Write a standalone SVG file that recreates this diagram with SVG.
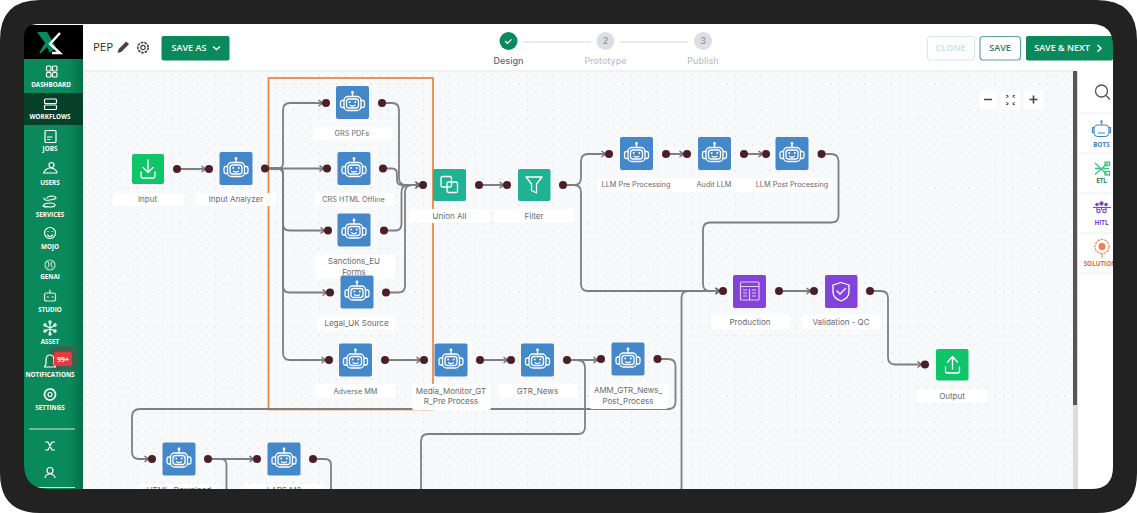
<svg xmlns="http://www.w3.org/2000/svg" width="1137" height="513" viewBox="0 0 1137 513">
<style>
.lb{fill:#fff}
.lt{font:400 8px Inter,"Open Sans",sans-serif;fill:#676b71;text-anchor:middle}
.s{font-size:7.3px}
.sb{font:700 6.3px "Open Sans","Liberation Sans",sans-serif;fill:#fff;text-anchor:middle}
.si{fill:none;stroke:#fff;stroke-width:1.2;stroke-linecap:round;stroke-linejoin:round}
.c{fill:none;stroke:#7f7f7f;stroke-width:1.8;stroke-linecap:round}
.a{marker-end:url(#ah)}
.p{fill:#4a1f28}
.ic{fill:none;stroke:#fff;stroke-width:1.3;stroke-linecap:round;stroke-linejoin:round}
.hd{font:600 9px "Open Sans","Liberation Sans",sans-serif;text-anchor:middle}
.st{font:500 9px Inter,"Open Sans",sans-serif;text-anchor:middle}
.pn{font:700 6.3px "Open Sans","Liberation Sans",sans-serif;text-anchor:middle}
</style>
<defs>
<linearGradient id="sg" x1="0" x2="1" y1="0" y2="0"><stop offset="0" stop-color="#0a8a5c"/><stop offset=".75" stop-color="#0a8a5c"/><stop offset="1" stop-color="#067048"/></linearGradient>
<pattern id="dots" width="8.67" height="8.67" patternUnits="userSpaceOnUse" x="3" y="2"><circle cx="4" cy="4" r=".9" fill="#e2e5e9"/></pattern>
<marker id="ah" markerWidth="12" markerHeight="8" refX="10" refY="4" orient="auto" markerUnits="userSpaceOnUse"><path d="M2.500 1L6.500 4L2.500 7" fill="none" stroke="#6e6e6e" stroke-width="1.400"/></marker>
<g id="robot"><rect x="-16.500" y="-16.500" width="33" height="33" rx="2" fill="#4488c9"/><g class="ic"><rect x="-8.500" y="-6" width="17" height="14" rx="4"/><rect x="-6" y="-3.500" width="12" height="9" rx="2.500"/><path d="M-8.500 -2H-10.500Q-12 -2 -12 0V3Q-12 5 -10.500 5H-8.500M8.500 -2H10.500Q12 -2 12 0V3Q12 5 10.500 5H8.500M0 -6V-9M-2.500 2.800Q0 4.300 2.500 2.800"/></g><circle cx="0" cy="-10" r="1.400" fill="#fff"/><circle cx="-2.800" cy="-.5" r="1" fill="#fff"/><circle cx="2.800" cy="-.5" r="1" fill="#fff"/></g>
</defs>

<rect width="1137" height="513" fill="#fff"/>
<g id="canvas"><rect x="83" y="71" width="990" height="420" fill="#f8f9fb"/><rect x="83" y="71" width="990" height="420" fill="url(#dots)"/></g>

<g id="header"><rect x="83" y="25" width="1030" height="46" fill="#fff"/><rect x="83" y="70" width="990" height="1.500" fill="#eceef0"/>
<text x="103" y="51" font-family="Open Sans,sans-serif" font-size="11.500" font-weight="500" fill="#333" text-anchor="middle">PEP</text>
<path d="M117.500 53l1.200-4 7.500-7.500 2.800 2.800-7.500 7.500z" fill="#444"/>
<circle cx="143" cy="47.500" r="2.200" fill="none" stroke="#444" stroke-width="1.200"/><circle cx="143" cy="47.500" r="5.200" fill="none" stroke="#444" stroke-width="1.700" stroke-dasharray="2.600 1"/>
<rect x="161.500" y="36" width="68" height="24.500" rx="2" fill="#0a8a5c"/><text x="189" y="51" class="hd" fill="#fff">SAVE AS</text><path d="M213 46.500l3.500 3 3.500-3" fill="none" stroke="#fff" stroke-width="1.500"/>
<circle cx="508.500" cy="41" r="9" fill="#0a8a5c"/><path d="M505 41l2.500 2.300 4-4" fill="none" stroke="#fff" stroke-width="1.200"/>
<path d="M524 42H591M620 42H688" stroke="#e3e5e8" stroke-width="1.500"/>
<circle cx="605.500" cy="41" r="9" fill="#dcdee3"/><circle cx="703" cy="41" r="9" fill="#dcdee3"/>
<text x="605.500" y="44" class="st" font-size="8" fill="#8d919a">2</text><text x="703" y="44" class="st" font-size="8" fill="#8d919a">3</text>
<text x="508.500" y="63.500" class="st" fill="#5c6b85">Design</text><text x="605.500" y="63.500" class="st" fill="#c0c3c8">Prototype</text><text x="703" y="63.500" class="st" fill="#c0c3c8">Publish</text>
<rect x="927.500" y="36.500" width="47" height="23.500" rx="3" fill="#fff" stroke="#d6e8f4" stroke-width="1.200"/><text x="950.500" y="51" class="hd" fill="#c4e1f2">CLONE</text>
<rect x="980" y="36.500" width="40.500" height="23.500" rx="3" fill="#fff" stroke="#5fa88d" stroke-width="1.200"/><text x="1000" y="51" class="hd" fill="#2b7d63">SAVE</text>
<rect x="1026" y="36" width="87" height="24.500" rx="2" fill="#0a8a5c"/><text x="1062" y="51" class="hd" fill="#fff">SAVE &amp; NEXT</text><path d="M1097.500 45l3.500 3.300-3.500 3.300" fill="none" stroke="#fff" stroke-width="1.500"/>
</g>

<g id="zoom-controls"><g fill="#fff"><rect x="979" y="91" width="18" height="19" rx="2"/><rect x="1001" y="91" width="19" height="19" rx="2"/><rect x="1024" y="91" width="19" height="19" rx="2"/></g>
<path d="M984 99.500H992M1029.500 99.500H1037.500M1033.500 95.500V103.500" stroke="#444" stroke-width="1.600" fill="none"/>
<path d="M1006 98l2-2M1015 98l-2-2M1006 102l2 2M1015 102l-2 2M1006 95.500h2v2M1015 95.500h-2v2M1006 104.500h2v-2M1015 104.500h-2v-2" stroke="#555" stroke-width=".9" fill="none"/></g>

<g id="scrollbar"><rect x="1073" y="71" width="5" height="420" fill="#dcdcdc"/><rect x="1073" y="71" width="4" height="334" fill="#555"/></g>

<g id="panel"><rect x="1079" y="71" width="34" height="420" fill="#fff"/>
<path d="M1080 113H1113M1080 153H1113M1080 193H1113M1080 233H1113M1080 273H1113" stroke="#eceef0"/>
<circle cx="1101.500" cy="91" r="6" fill="none" stroke="#555" stroke-width="1.300"/><path d="M1106 95.500L1110 99.500" stroke="#555" stroke-width="1.300"/>
<g fill="none" stroke="#4488c9" stroke-width="1.200"><rect x="1094" y="125" width="15" height="11.500" rx="4"/><path d="M1101.500 125V122.500M1094 127.500h-1.500v5H1094M1109 127.500h1.500v5H1109M1098 129.500h.1M1105 129.500h.1M1098 133h7"/></g><circle cx="1101.500" cy="121.500" r="1.200" fill="#4488c9"/><text x="1101.500" y="147" class="pn" fill="#3b7fc0">BOTS</text>
<g fill="none" stroke="#3cc281" stroke-width="1.300"><path d="M1095 163L1107 174.500M1108 163L1095 174.500M1095 168.500H1100M1103 168.500H1109"/><rect x="1105" y="162" width="4.500" height="3.500"/><rect x="1105" y="171.500" width="4.500" height="3.500"/></g><text x="1101.500" y="183" class="pn" fill="#1f8d5c">ETL</text>
<g fill="none" stroke="#7a3fd0" stroke-width="1.100"><path d="M1093 207.500H1111M1097 207.500V210M1101.500 207.500V210M1106 207.500V210"/><circle cx="1097" cy="204.500" r="1.200" fill="#7a3fd0"/><circle cx="1101.500" cy="203.500" r="1.600" fill="#7a3fd0"/><circle cx="1106" cy="204.500" r="1.200" fill="#7a3fd0"/><circle cx="1098.500" cy="211" r="1.700"/><circle cx="1104.500" cy="211" r="1.700"/></g><text x="1101.500" y="224.500" class="pn" fill="#7a3fd0">HITL</text>
<g fill="none" stroke="#e9824f" stroke-width="1.100"><circle cx="1102" cy="246.500" r="7" stroke-dasharray="2.500 1"/><circle cx="1102" cy="246.500" r="3" fill="#e9824f"/><path d="M1102 254V258"/></g><text x="1100" y="265.500" class="pn" fill="#e0683a">SOLUTION</text>
</g>

<g id="sidebar"><rect x="24" y="25" width="59" height="466" fill="url(#sg)"/><rect x="24" y="25" width="59" height="34" fill="#000"/><rect x="24" y="93" width="59" height="32" fill="#06402a"/>
<g id="logo" fill="none"><path d="M37 32H47L56 47L50 53L47 47L41 53H39L45 43Z" fill="#0a8a5c"/><path d="M60 33L50 44L60 53H52" stroke="#fff" stroke-width="2.400"/></g>
<g class="si">
<rect x="46.500" y="66" width="4.500" height="5" rx="1"/><rect x="52.500" y="66" width="4.500" height="5" rx="1"/><rect x="46.500" y="72.500" width="4.500" height="4.500" rx="1"/><rect x="52.500" y="72.500" width="4.500" height="4.500" rx="1"/>
<rect x="44.500" y="99" width="12" height="4.500" rx="1"/><rect x="44.500" y="105" width="12" height="4.500" rx="1"/>
<rect x="45" y="130.500" width="11" height="12" rx="1"/><path d="M47.500 137H52M47.500 139.500H50"/>
<circle cx="51.500" cy="165" r="2.500"/><path d="M43.500 173Q46 168 50 168Q55 168 57 172M43.500 173H57"/>
<path d="M44 198Q44 201 50 200Q56 199 56 198Q56 196 51 196Q47 197 47 198M43 206Q44 203 50 203Q55 203 55 205Q55 207 50 207Q44 207 43 206"/>
<circle cx="50" cy="233" r="5.500"/><path d="M47.500 235Q50 238 52.500 235M48 231.500h.1M52 231.500h.1"/>
<circle cx="50" cy="265" r="5" opacity=".7"/><path d="M48 262Q50 264 48 267M52 262Q50 264 52 267" opacity=".7"/>
<rect x="44.500" y="293" width="11" height="8" rx="2" opacity=".85"/><path d="M47 297h1.500M52 297h1.500M50 293V290" opacity=".85"/>
<path d="M50 323V333M45.500 325.500L54.500 331M54.500 325.500L45.500 331"/><circle cx="50" cy="322" r="1.100"/><circle cx="50" cy="334" r="1.100"/><circle cx="45" cy="325" r="1.100"/><circle cx="55" cy="325" r="1.100"/><circle cx="45" cy="331" r="1.100"/><circle cx="55" cy="331" r="1.100"/>
<circle cx="50" cy="394.500" r="2"/><circle cx="50" cy="394.500" r="5.500" stroke-dasharray="2.700 1.100" stroke-width="1.700"/>
<path d="M45.500 442L48 442L52 450L54.500 450M45.500 450L48 450L52 442L54.500 442"/>
<circle cx="50" cy="470.500" r="3"/><path d="M45 477.500Q46 474 50 474Q54 474 55 477.500"/>
</g>
<g id="bell"><rect x="49" y="346" width="29" height="24" rx="6" fill="#3f5f4d" opacity=".85"/><path class="si" d="M46 364V360Q46 355 50 355Q54 355 54 360V364L55.500 367H44.500Z"/><rect x="54" y="352" width="18" height="14" rx="2" fill="#e5383f"/><text x="63" y="361.500" font-family="Open Sans,sans-serif" font-size="7" font-weight="700" fill="#fff" text-anchor="middle">99+</text></g>
<path d="M29 429H75M36 487.500H75" stroke="#cfe8dd" stroke-width="1"/>
<text x="51" y="86.500" class="sb">DASHBOARD</text><text x="50" y="118.500" class="sb">WORKFLOWS</text><text x="50" y="151" class="sb">JOBS</text><text x="50" y="184.500" class="sb">USERS</text><text x="50" y="216.500" class="sb">SERVICES</text><text x="50" y="249" class="sb">MOJO</text><text x="50" y="279" class="sb">GENAI</text><text x="50" y="311.500" class="sb">STUDIO</text><text x="50" y="343.500" class="sb">ASSET</text><text x="50" y="377" class="sb">NOTIFICATIONS</text><text x="50" y="409.500" class="sb">SETTINGS</text>
</g>

<rect id="selection" x="268.500" y="78" width="164.500" height="331.500" fill="none" stroke="#ea7a3c" stroke-width="1.600"/>

<g id="connectors">
<path class="c a" d="M177 169H209"/>
<path class="c a" d="M265 168.500H278Q283 168.500 283 163V110Q283 103 290 103H326"/>
<path class="c a" d="M265 168.500H327"/>
<path class="c a" d="M265 168.500H278Q283 168.500 283 174V224Q283 230.500 290 230.500H328"/>
<path class="c a" d="M265 168.500H278Q283 168.500 283 174V286Q283 292.500 290 292.500H330"/>
<path class="c a" d="M265 168.500H278Q283 168.500 283 174V353Q283 360 290 360H329"/>
<path class="c a" d="M382 103H392Q399 103 399 110V178Q399 185 406 185H423"/>
<path class="c a" d="M383 168.500H392Q397 168.500 397 174V180Q397 185 402 185H423"/>
<path class="c a" d="M384 230.500H395Q401.500 230.500 401.500 224V192Q401.500 185 408 185H423"/>
<path class="c a" d="M386 292.500H398Q405 292.500 405 286V192Q405 185 412 185H423"/>
<path class="c a" d="M385 360H424"/>
<path class="c a" d="M480 360H511"/>
<path class="c a" d="M567 360H601"/>
<path class="c" d="M567 360H577Q585 360 585 368V427Q585 434 578 434H428Q421 434 421 441V495"/>
<path class="c a" d="M657.500 359H668Q675.500 359 675.500 366V402Q675.500 409 668 409H140Q132 409 132 417V452Q132 459 139 459H152"/>
<path class="c a" d="M208 459H257"/>
<path class="c" d="M208 459H221Q226.500 459 226.500 465V495"/>
<path class="c" d="M313 459H325Q331 459 331 465V495"/>
<path class="c a" d="M479 185H507"/>
<path class="c a" d="M563 185H574Q581 185 581 178V161Q581 154 588 154H609"/>
<path class="c a" d="M563 185H574Q581 185 581 192V284Q581 291 588 291H723"/>
<path class="c a" d="M666 154H687"/>
<path class="c a" d="M744 154H766"/>
<path class="c a" d="M821.500 154H831Q838.500 154 838.500 161V216Q838.500 222.500 831 222.500H710Q703 222.500 703 230V284Q703 291 710 291H723"/>
<path class="c a" d="M681.500 495V298Q681.500 291 688 291H723"/>
<path class="c a" d="M779 291H814"/>
<path class="c a" d="M870 291H881Q888 291 888 298V357Q888 364.500 895 364.500H925"/>
</g>

<g id="n-input"><rect x="132" y="154" width="32" height="30" rx="2" fill="#10c469"/><g class="ic" stroke-width="1.600"><path d="M148 160V172M143 167.500L148 172.500L153 167.500M141 172V176Q141 178 143 178H153Q155 178 155 176V172"/></g><rect x="113" y="193" width="71" height="13" rx="2" class="lb"/><text x="147.500" y="201.500" class="lt">Input</text><circle class="p" cx="177" cy="169" r="4"/></g>
<g id="n-analyzer"><use href="#robot" x="236" y="168.500"/><rect x="196" y="193" width="80" height="13" rx="2" class="lb"/><text x="236" y="201.500" class="lt">Input Analyzer</text><circle class="p" cx="209" cy="169" r="4"/><circle class="p" cx="265" cy="168.500" r="4"/></g>
<g id="n-grs"><use href="#robot" x="352.500" y="102.500"/><rect x="313" y="127" width="79" height="13" rx="2" class="lb"/><text x="352" y="136" class="lt s">GRS PDFs</text><circle class="p" cx="326" cy="103" r="4"/><circle class="p" cx="382" cy="103" r="4"/></g>
<g id="n-crs"><use href="#robot" x="354" y="168.500"/><rect x="315" y="193" width="79" height="13" rx="2" class="lb"/><text x="353.500" y="201.500" class="lt s">CRS HTML Offline</text><circle class="p" cx="327" cy="168.500" r="4"/><circle class="p" cx="383" cy="168.500" r="4"/></g>
<g id="n-sanctions"><use href="#robot" x="354" y="230"/><rect x="316" y="255" width="79" height="24" rx="2" class="lb"/><text x="354" y="264" class="lt">Sanctions_EU</text><text x="354" y="274.500" class="lt">Forms</text><circle class="p" cx="328" cy="230.500" r="4"/><circle class="p" cx="384" cy="230.500" r="4"/></g>
<g id="n-legal"><use href="#robot" x="357" y="292"/><rect x="317" y="317" width="80" height="13" rx="2" class="lb"/><text x="356.500" y="326" class="lt">Legal_UK Source</text><circle class="p" cx="330" cy="292.500" r="4"/><circle class="p" cx="386" cy="292.500" r="4"/></g>
<g id="n-adverse"><use href="#robot" x="355.500" y="360"/><rect x="316" y="384" width="80" height="14" rx="2" class="lb"/><text x="355.500" y="393.500" class="lt s">Adverse MM</text><circle class="p" cx="329" cy="360" r="4"/><circle class="p" cx="385" cy="360" r="4"/></g>
<g id="n-media"><use href="#robot" x="451" y="360"/><rect x="412" y="384" width="79" height="26" rx="2" class="lb"/><text x="451" y="393.500" class="lt">Media_Monitor_GT</text><text x="451" y="404" class="lt">R_Pre Process</text><circle class="p" cx="424" cy="360" r="4"/><circle class="p" cx="480" cy="360" r="4"/></g>
<g id="n-gtr"><use href="#robot" x="537.500" y="360"/><rect x="499" y="384" width="79" height="14" rx="2" class="lb"/><text x="537.500" y="393.500" class="lt">GTR_News</text><circle class="p" cx="511" cy="360" r="4"/><circle class="p" cx="567" cy="360" r="4"/></g>
<g id="n-amm"><use href="#robot" x="628" y="359"/><rect x="590" y="384" width="78" height="25" rx="2" class="lb"/><text x="628" y="393" class="lt">AMM_GTR_News_</text><text x="628" y="403.500" class="lt">Post_Process</text><circle class="p" cx="601" cy="359" r="4"/><circle class="p" cx="657.500" cy="359" r="4"/></g>
<g id="n-html"><use href="#robot" x="179" y="459"/><rect x="140" y="484" width="78" height="14" rx="2" class="lb"/><text x="179" y="493" class="lt">HTML_Download</text><circle class="p" cx="152" cy="459" r="4"/><circle class="p" cx="208" cy="459" r="4"/></g>
<g id="n-lars"><use href="#robot" x="284" y="459"/><rect x="245" y="484" width="78" height="14" rx="2" class="lb"/><text x="284" y="493" class="lt">LARS M2</text><circle class="p" cx="257" cy="459" r="4"/><circle class="p" cx="313" cy="459" r="4"/></g>
<g id="n-union"><rect x="433" y="169" width="33" height="32" rx="2" fill="#1fb393"/><g class="ic" stroke-width="1.500"><rect x="441" y="176.500" width="10.500" height="10.500" rx="1.500"/><rect x="447" y="182" width="10.500" height="10.500" rx="1.500"/></g><rect x="409" y="209" width="81" height="14" rx="2" class="lb"/><text x="449.500" y="218.500" class="lt">Union All</text><circle class="p" cx="423" cy="185" r="4"/><circle class="p" cx="479" cy="185" r="4"/></g>
<g id="n-filter"><rect x="518" y="169" width="32.500" height="32" rx="2" fill="#1fb393"/><path class="ic" stroke-width="1.500" d="M526 177H542L536.500 184V193L531.500 190.500V184Z"/><rect x="494" y="209" width="80" height="14" rx="2" class="lb"/><text x="534" y="218.500" class="lt">Filter</text><circle class="p" cx="507" cy="185" r="4"/><circle class="p" cx="563" cy="185" r="4"/></g>
<rect id="llm-label-band" x="597" y="178" width="235" height="14" rx="2" class="lb"/>
<g id="n-llmpre"><use href="#robot" x="636.500" y="153.500"/><text x="636" y="187" class="lt s">LLM Pre Processing</text><circle class="p" cx="609" cy="154" r="4"/><circle class="p" cx="666" cy="154" r="4"/></g>
<g id="n-audit"><use href="#robot" x="714.500" y="153.500"/><text x="714" y="187" class="lt s">Audit LLM</text><circle class="p" cx="687" cy="154" r="4"/><circle class="p" cx="744" cy="154" r="4"/></g>
<g id="n-llmpost"><use href="#robot" x="792" y="153.500"/><text x="792" y="187" class="lt s">LLM Post Processing</text><circle class="p" cx="766" cy="154" r="4"/><circle class="p" cx="821.500" cy="154" r="4"/></g>
<g id="n-production"><rect x="733" y="275" width="33" height="33" rx="2" fill="#8342d8"/><g fill="none" stroke="#e2ccf7" stroke-width="1.200"><rect x="740.500" y="282" width="18.500" height="18" rx="1"/><path d="M740.500 286.500H759M749.500 289V300M743 290H747M743 293H747M743 296H747M752 290H756M752 293H756M752 296H756"/></g><rect x="711" y="315" width="79" height="14" rx="2" class="lb"/><text x="750" y="324.500" class="lt">Production</text><circle class="p" cx="723" cy="291" r="4"/><circle class="p" cx="779" cy="291" r="4"/></g>
<g id="n-validation"><rect x="825" y="275" width="32.500" height="33" rx="2" fill="#8342d8"/><g class="ic" stroke-width="1.300"><path d="M841 282.500L849 285V292Q849 298 841 301Q833 298 833 292V285Z"/><path d="M837 291L840 294L845.500 288.500"/></g><rect x="802" y="315" width="79" height="14" rx="2" class="lb"/><text x="841" y="324.500" class="lt">Validation - QC</text><circle class="p" cx="814" cy="291" r="4"/><circle class="p" cx="870" cy="291" r="4"/></g>
<g id="n-output"><rect x="936" y="349" width="32.500" height="31.500" rx="2" fill="#10c469"/><g class="ic" stroke-width="1.600"><path d="M952.500 369V357M947.500 362L952.500 356.500L957.500 362M945.500 367V371Q945.500 373 947.500 373H957.500Q959.500 373 959.500 371V367"/></g><rect x="917" y="389" width="70" height="14" rx="2" class="lb"/><text x="952" y="398.500" class="lt">Output</text><circle class="p" cx="925" cy="364.500" r="4"/></g>

<path id="frame" fill="#222" fill-rule="evenodd" d="M40 0H1097Q1137 0 1137 40V473Q1137 513 1097 513H40Q0 513 0 473V40Q0 0 40 0ZM38 24Q24 24 24 38V464Q24 489 49 489H1091Q1113 489 1113 467V46Q1113 24 1091 24Z"/>
</svg>
